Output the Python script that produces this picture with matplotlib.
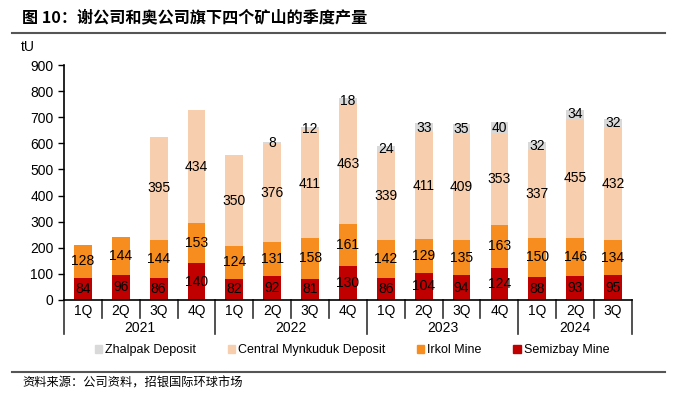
import numpy as np
import matplotlib
matplotlib.use('Agg')
import matplotlib.pyplot as plt
from matplotlib.lines import Line2D
from matplotlib.patches import Patch

plt.rcParams['font.family'] = ['Liberation Sans', 'Noto Sans CJK SC', 'DejaVu Sans']

# data (tU)
quarters = ['1Q', '2Q', '3Q', '4Q'] * 3 + ['1Q', '2Q', '3Q']
years = ['2021', '2022', '2023', '2024']
semizbay = [84, 96, 86, 140, 82, 92, 81, 130, 86, 104, 94, 124, 88, 93, 95]
irkol = [128, 144, 144, 153, 124, 131, 158, 161, 142, 129, 135, 163, 150, 146, 134]
mynkuduk = [0, 0, 395, 434, 350, 376, 411, 463, 339, 411, 409, 353, 337, 455, 432]
zhalpak = [0, 0, 0, 0, 0, 8, 12, 18, 24, 33, 35, 40, 32, 34, 32]

series = [('Semizbay Mine', semizbay, '#C00000'),
          ('Irkol Mine', irkol, '#F78D1E'),
          ('Central Mynkuduk Deposit', mynkuduk, '#F8CFAE'),
          ('Zhalpak Deposit', zhalpak, '#D9D9D9')]

fig = plt.figure(figsize=(6.73, 3.94), dpi=100)
ax = fig.add_axes([0.095, 0.2386, 0.844, 0.5964])

x = np.arange(len(quarters))
bottom = np.zeros(len(x))
for name, vals, col in series:
    vals = np.array(vals, dtype=float)
    ax.bar(x, vals, 0.47, bottom=bottom, color=col, label=name)
    for xi, b, v in zip(x, bottom, vals):
        if v > 0:
            ax.text(xi, b + v / 2, f'{int(v)}', ha='center', va='center',
                    fontsize=10, color='black')
    bottom += vals

ax.set_xlim(-0.5, len(x) - 0.5)
ax.set_ylim(0, 900)
ax.set_yticks(range(0, 901, 100))
ax.tick_params(axis='y', labelsize=10, length=4, direction='out', width=1)
ax.spines['top'].set_visible(False)
ax.spines['right'].set_visible(False)
ax.spines['left'].set_linewidth(1.2)
ax.spines['bottom'].set_linewidth(1.2)
ax.text(-0.075, 1.06, 'tU', transform=ax.transAxes, fontsize=10)

# two-level category axis
ax.set_xticks(x)
ax.set_xticklabels(quarters, fontsize=10)
ax.tick_params(axis='x', length=0, pad=3)
trans = ax.get_xaxis_transform()
for i in range(len(x) + 1):
    edge = i - 0.5
    depth = -0.145 if i % 4 == 0 or i == len(x) else -0.075
    ax.add_line(Line2D([edge, edge], [0, depth], transform=trans, color='#333333',
                       lw=1.2, clip_on=False))
for j, yr in enumerate(years):
    start = j * 4 - 0.5
    end = min(start + 4, len(x) - 0.5)
    ax.text((start + end) / 2, -0.12, yr, transform=trans, ha='center',
            va='center', fontsize=10)

handles = [Patch(color=c) for _, _, c in series][::-1]
names = [n for n, _, _ in series][::-1]
fig.legend(handles, names, loc='center', bbox_to_anchor=(0.523, 0.111), ncol=4,
           frameon=False, fontsize=9, handlelength=0.6, handleheight=0.6,
           handletextpad=0.25, columnspacing=2.5, borderpad=0)

fig.text(0.033, 0.957, '图 10：谢公司和奥公司旗下四个矿山的季度产量', fontsize=11.6,
         fontweight='bold', va='center', family=['Noto Sans CJK SC', 'DejaVu Sans'])
fig.add_artist(Line2D([0.018, 0.988], [0.917, 0.917], color='#555555', lw=1.5))
fig.add_artist(Line2D([0.018, 0.988], [0.056, 0.056], color='#555555', lw=1.5))
fig.text(0.033, 0.028, '资料来源：公司资料，招银国际环球市场', fontsize=8.8,
         va='center', family=['Noto Sans CJK SC', 'DejaVu Sans'])

fig.savefig('out.png', dpi=100)
